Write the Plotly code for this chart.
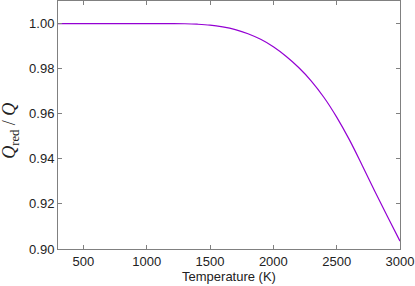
import plotly.graph_objects as go

temperature = [300, 500, 700, 900, 1100, 1200, 1300, 1400, 1500, 1600, 1700, 1800,
               1900, 2000, 2100, 2200, 2300, 2400, 2500, 2600, 2700, 2800, 2900, 3000]
q_ratio = [1.0000, 1.0000, 1.0000, 1.0000, 1.0000, 0.99998, 0.9999, 0.9997, 0.9993,
           0.9985, 0.9973, 0.9955, 0.9930, 0.9897, 0.9855, 0.9805, 0.9745, 0.9672,
           0.9585, 0.9485, 0.9373, 0.9257, 0.9145, 0.9035]

x_ticks = [500, 1000, 1500, 2000, 2500, 3000]
y_ticks = [0.90, 0.92, 0.94, 0.96, 0.98, 1.00]

fig = go.Figure()
fig.add_trace(go.Scatter(x=temperature, y=q_ratio, mode="lines",
                         line=dict(color="#9400D3", width=1.2, shape="spline"),
                         showlegend=False))

axis_common = dict(showgrid=False, zeroline=False, showline=True, linecolor="#808080",
                   linewidth=1, mirror="allticks", ticks="inside", ticklen=4,
                   tickcolor="#808080", tickfont=dict(family="Liberation Sans", size=13, color="#222"))

fig.update_xaxes(range=[300, 3000], tickvals=x_ticks,
                 title=dict(text="Temperature (K)", font=dict(family="Liberation Sans", size=13, color="#222"), standoff=4),
                 **axis_common)
fig.update_yaxes(range=[0.90, 1.01], tickvals=y_ticks, tickformat=".2f", **axis_common)

fig.add_annotation(text="<i>Q</i><sub>red</sub> / <i>Q</i>", xref="paper", yref="paper",
                   x=-0.138, y=0.476, xanchor="center", yanchor="middle", textangle=-90,
                   showarrow=False, font=dict(family="Liberation Serif", size=18, color="#222"))

fig.update_layout(width=415, height=286, margin=dict(l=58, r=15, t=1, b=37),
                  plot_bgcolor="white", paper_bgcolor="white")

fig.write_html("out.html", config={"displayModeBar": False},
               post_script="document.body.style.margin='0';document.body.style.overflow='hidden';")
